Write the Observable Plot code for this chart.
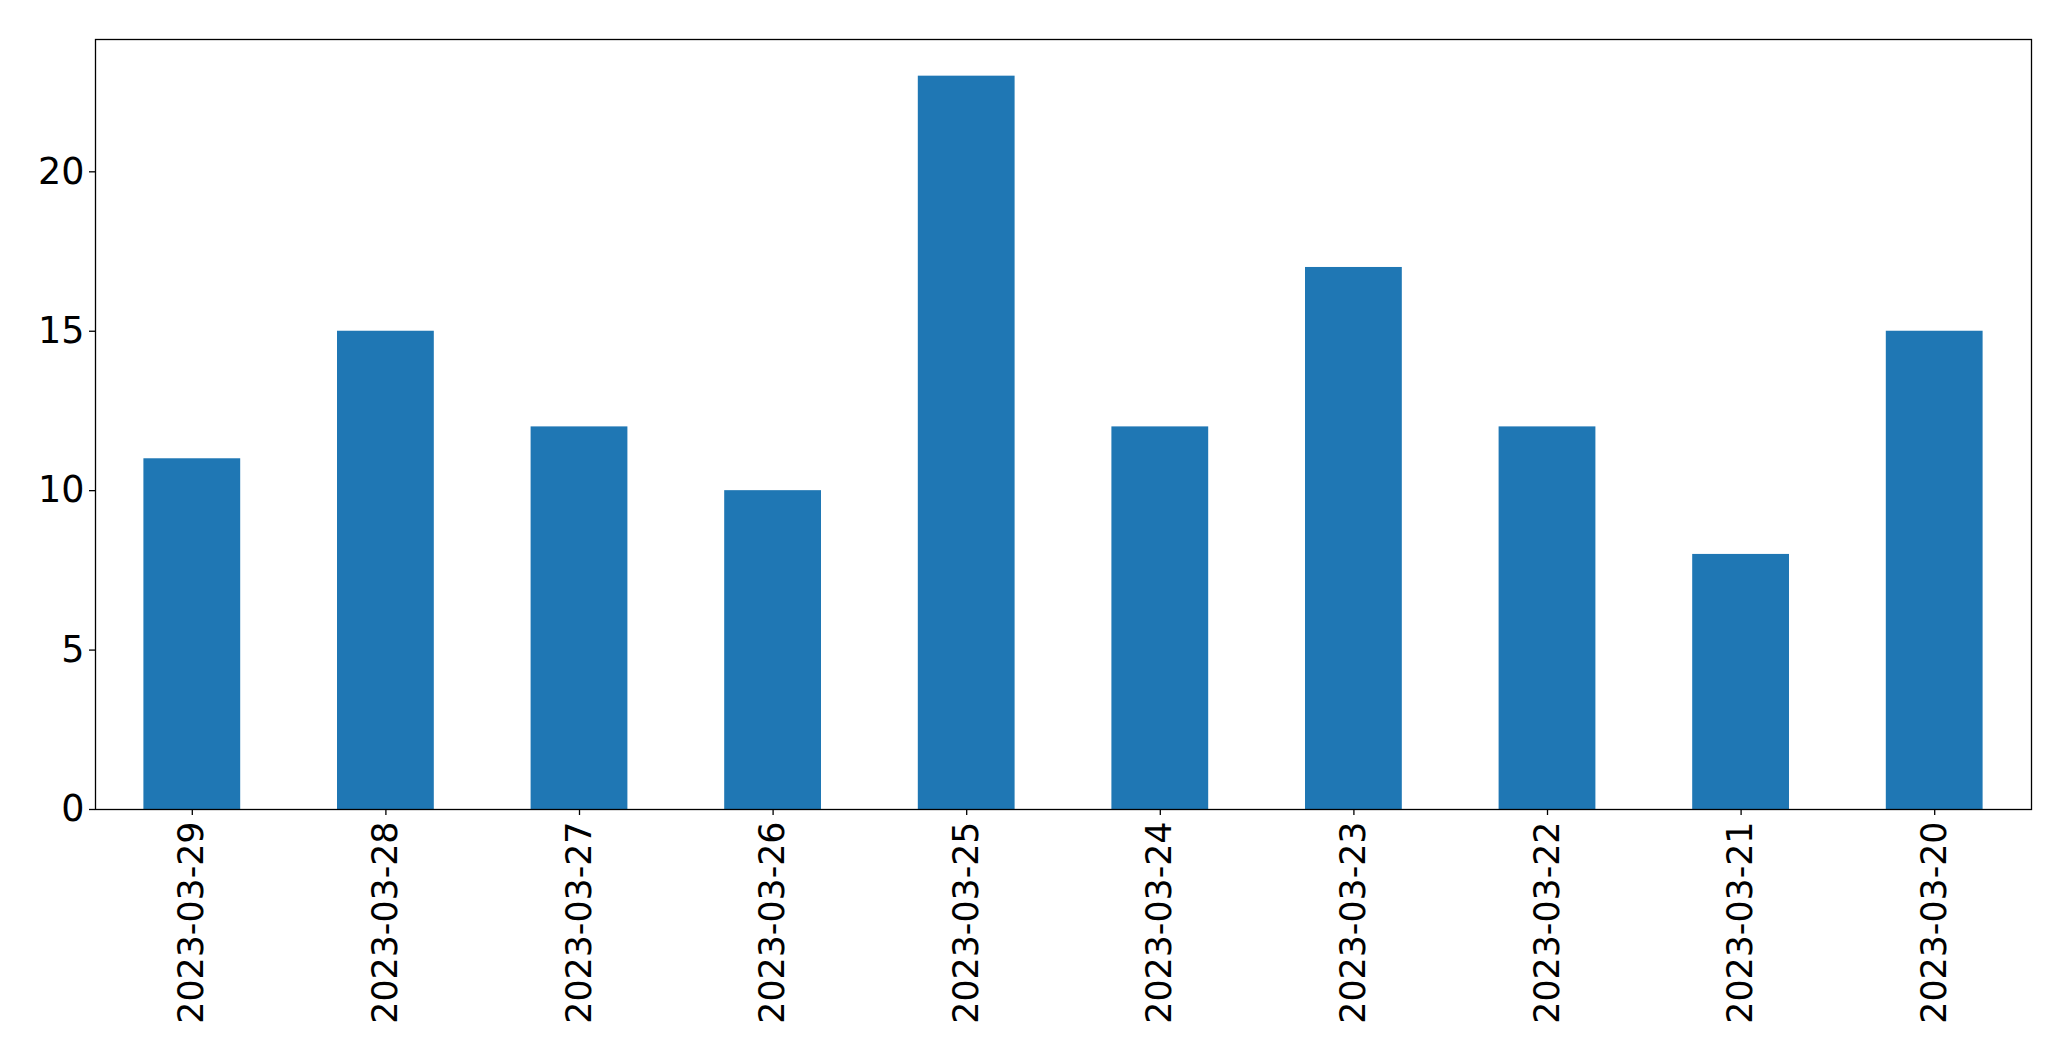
<!DOCTYPE html>
<html>
<head>
<meta charset="utf-8">
<script src="https://cdn.jsdelivr.net/npm/d3@7"></script>
<script src="https://cdn.jsdelivr.net/npm/@observablehq/plot@0.6"></script>
<style>
  html, body { margin: 0; padding: 0; background: #fff; }
  svg { display: block; }
</style>
</head>
<body>
<div id="chart"></div>
<script>
const dates = ["2023-03-29","2023-03-28","2023-03-27","2023-03-26","2023-03-25","2023-03-24","2023-03-23","2023-03-22","2023-03-21","2023-03-20"];
const counts = [11, 15, 12, 10, 23, 12, 17, 12, 8, 15];
const yTicks = [0, 5, 10, 15, 20];

const data = dates.map((d, i) => ({date: d, count: counts[i]}));

const chart = Plot.plot({
  width: 2071,
  height: 1061,
  marginLeft: 95,
  marginRight: 40,
  marginTop: 39,
  marginBottom: 252,
  style: {fontFamily: "DejaVu Sans", fontSize: "35px", color: "black", background: "white"},
  x: {type: "band", domain: dates, paddingInner: 0.5, paddingOuter: 0.25, round: false, label: null},
  y: {domain: [0, 24.15], label: null},
  marks: [
    Plot.barY(data, {x: "date", y: "count", fill: "#1f77b4"}),
    Plot.frame({stroke: "black", strokeWidth: 1.3}),
    Plot.axisY({ticks: yTicks, tickSize: 6, tickPadding: 5, fontSize: 36.5, label: null, stroke: "black", strokeWidth: 1.3}),
    Plot.axisX({tickRotate: -90, tickSize: 6, tickPadding: 6, fontSize: 34.8, label: null, stroke: "black", strokeWidth: 1.3})
  ]
});
document.getElementById("chart").appendChild(chart);
</script>
</body>
</html>
